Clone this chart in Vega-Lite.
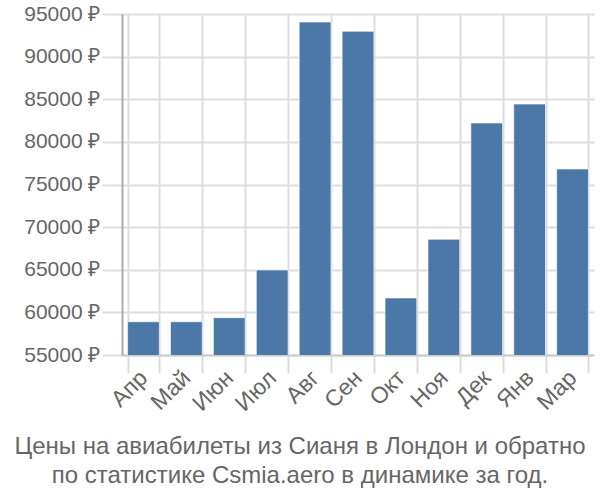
{
  "$schema": "https://vega.github.io/schema/vega-lite/v6.json",
  "width": 472,
  "height": 341,
  "autosize": {"type": "none"},
  "padding": {"left": 122, "top": 14, "right": 6, "bottom": 145},
  "background": "white",
  "config": {
    "font": "Liberation Sans",
    "view": {"stroke": null}
  },
  "title": {
    "text": ["Цены на авиабилеты из Сианя в Лондон и обратно", "по статистике Csmia.aero в динамике за год."],
    "orient": "bottom",
    "anchor": "middle",
    "dx": -58,
    "offset": 19,
    "fontSize": 24,
    "fontWeight": "normal",
    "color": "#666666",
    "lineHeight": 29,
    "font": "Liberation Sans"
  },
  "data": {
    "values": [
      {"month": "Апр", "price": 58900},
      {"month": "Май", "price": 58900},
      {"month": "Июн", "price": 59380},
      {"month": "Июл", "price": 64970},
      {"month": "Авг", "price": 94060},
      {"month": "Сен", "price": 92970},
      {"month": "Окт", "price": 61690},
      {"month": "Ноя", "price": 68570},
      {"month": "Дек", "price": 82210},
      {"month": "Янв", "price": 84440},
      {"month": "Мар", "price": 76820}
    ]
  },
  "mark": {"type": "bar", "color": "#4c78a8", "stroke": "#ffffff", "strokeWidth": 1, "strokeOpacity": 0.6, "clip": true},
  "encoding": {
    "x": {
      "field": "month",
      "type": "nominal",
      "sort": null,
      "scale": {"paddingInner": 0.26, "paddingOuter": 0.13},
      "axis": {
        "title": null,
        "labelAngle": -45,
        "labelAlign": "right",
        "labelBaseline": "middle",
        "labelFontSize": 23,
        "labelColor": "#666666",
        "labelPadding": 1,
        "tickBand": "extent",
        "tickSize": 18,
        "tickColor": "#dddddd",
        "tickWidth": 2,
        "grid": true,
        "gridColor": "#dddddd",
        "gridWidth": 2,
        "domainColor": "#cccccc",
        "domainWidth": 2
      }
    },
    "y": {
      "field": "price",
      "type": "quantitative",
      "scale": {"domain": [55000, 95000], "zero": false, "nice": false},
      "axis": {
        "title": null,
        "values": [55000, 60000, 65000, 70000, 75000, 80000, 85000, 90000, 95000],
        "labelExpr": "datum.value + ' ₽'",
        "labelFontSize": 21,
        "labelColor": "#666666",
        "labelPadding": 2,
        "tickSize": 20,
        "tickColor": "#dddddd",
        "tickWidth": 2,
        "grid": true,
        "gridColor": "#dddddd",
        "gridWidth": 2,
        "domainColor": "#aaaaaa",
        "domainWidth": 2
      }
    }
  }
}
